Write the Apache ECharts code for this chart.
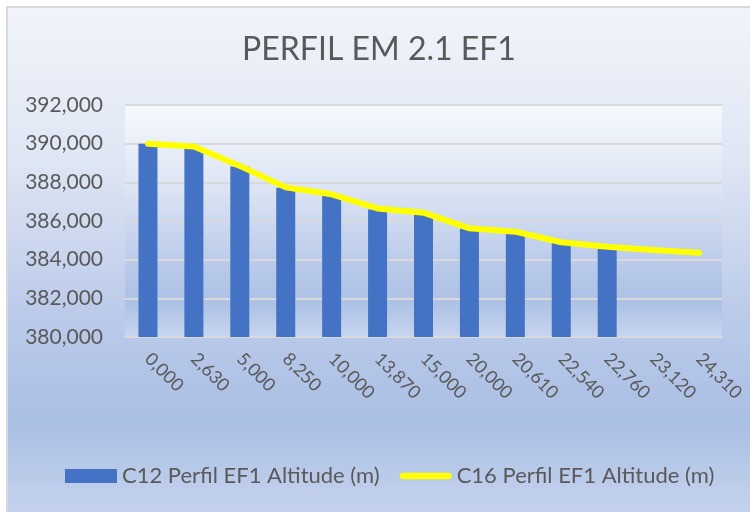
<!DOCTYPE html>
<html>
<head>
<meta charset="utf-8">
<script src="https://cdn.jsdelivr.net/npm/echarts@6/dist/echarts.min.js"></script>
<style>
  html, body { margin: 0; padding: 0; background: #fff; }
  #frame { position: absolute; left: 6px; top: 6px; width: 744px; height: 506px;
    border-left: 2px solid #d9d9d9; border-top: 2px solid #d9d9d9; box-sizing: border-box; }
  #chart { width: 100%; height: 100%; }
</style>
</head>
<body>
<div id="frame"><div id="chart"></div></div>
<script>
const categories = ['0,000', '2,630', '5,000', '8,250', '10,000', '13,870', '15,000',
  '20,000', '20,610', '22,540', '22,760', '23,120', '24,310']
const c12Altitude = [390000, 389820, 388820, 387720, 387360, 386600, 386400,
  385600, 385400, 384880, 384640, null, null]
const c16Altitude = [390000, 389850, 388850, 387740, 387380, 386650, 386430,
  385620, 385450, 384900, 384670, 384500, 384360]
const yTicks = { min: 380000, max: 392000, interval: 2000 }

const fmt = v => v.toLocaleString('en-US')
const font = 'Lato, "Open Sans", sans-serif'

const chart = echarts.init(document.getElementById('chart'))
chart.setOption({
  backgroundColor: new echarts.graphic.LinearGradient(0, 0, 0, 1, [
    { offset: 0, color: '#f1f4fa' },
    { offset: 0.3, color: '#dfe6f4' },
    { offset: 0.6, color: '#bccbea' },
    { offset: 0.82, color: '#aabfe4' },
    { offset: 1, color: '#c4d2ed' }
  ]),
  title: {
    text: 'PERFIL EM 2.1 EF1',
    left: 'center',
    top: 21,
    textStyle: { fontFamily: font, fontSize: 32, fontWeight: 'normal', color: '#595959' }
  },
  legend: {
    bottom: 20,
    left: 52,
    itemGap: 20,
    itemWidth: 52,
    itemHeight: 14,
    textStyle: { fontFamily: font, fontSize: 22, color: '#595959' },
    data: [
      { name: 'C12 Perfil EF1 Altitude (m)', icon: 'rect' },
      { name: 'C16 Perfil EF1 Altitude (m)',
        icon: 'path://M3.5,0 L51.5,0 A3.5,3.5 0 0 1 51.5,7 L3.5,7 A3.5,3.5 0 0 1 3.5,0 Z' }
    ]
  },
  grid: {
    left: 117, right: 28, top: 97, bottom: 175,
    show: true,
    borderWidth: 0,
    backgroundColor: new echarts.graphic.LinearGradient(0, 0, 0, 1, [
      { offset: 0, color: '#f6f8fc' },
      { offset: 0.35, color: '#dde5f4' },
      { offset: 0.7, color: '#b8c9e9' },
      { offset: 0.85, color: '#adc1e5' },
      { offset: 1, color: '#c7d5ef' }
    ])
  },
  xAxis: {
    type: 'category',
    data: categories,
    axisLine: { lineStyle: { color: '#d9d9d9', width: 2 } },
    axisTick: { show: false },
    axisLabel: {
      rotate: -45, margin: 19, interval: 0,
      fontFamily: font, fontSize: 18, color: '#595959'
    }
  },
  yAxis: {
    type: 'value',
    min: yTicks.min,
    max: yTicks.max,
    interval: yTicks.interval,
    axisLine: { show: false },
    axisTick: { show: false },
    axisLabel: {
      margin: 22, fontFamily: font, fontSize: 21, color: '#595959',
      formatter: fmt
    },
    splitLine: { lineStyle: { color: '#d9d9d9', width: 2 } }
  },
  series: [
    {
      name: 'C12 Perfil EF1 Altitude (m)',
      type: 'bar',
      data: c12Altitude,
      barWidth: 19,
      itemStyle: { color: '#4472c4' }
    },
    {
      name: 'C16 Perfil EF1 Altitude (m)',
      type: 'line',
      data: c16Altitude,
      showSymbol: false,
      symbol: 'none',
      lineStyle: { color: '#ffff00', width: 6, cap: 'round', join: 'round' },
      itemStyle: { color: '#ffff00' }
    }
  ]
})
</script>
</body>
</html>
